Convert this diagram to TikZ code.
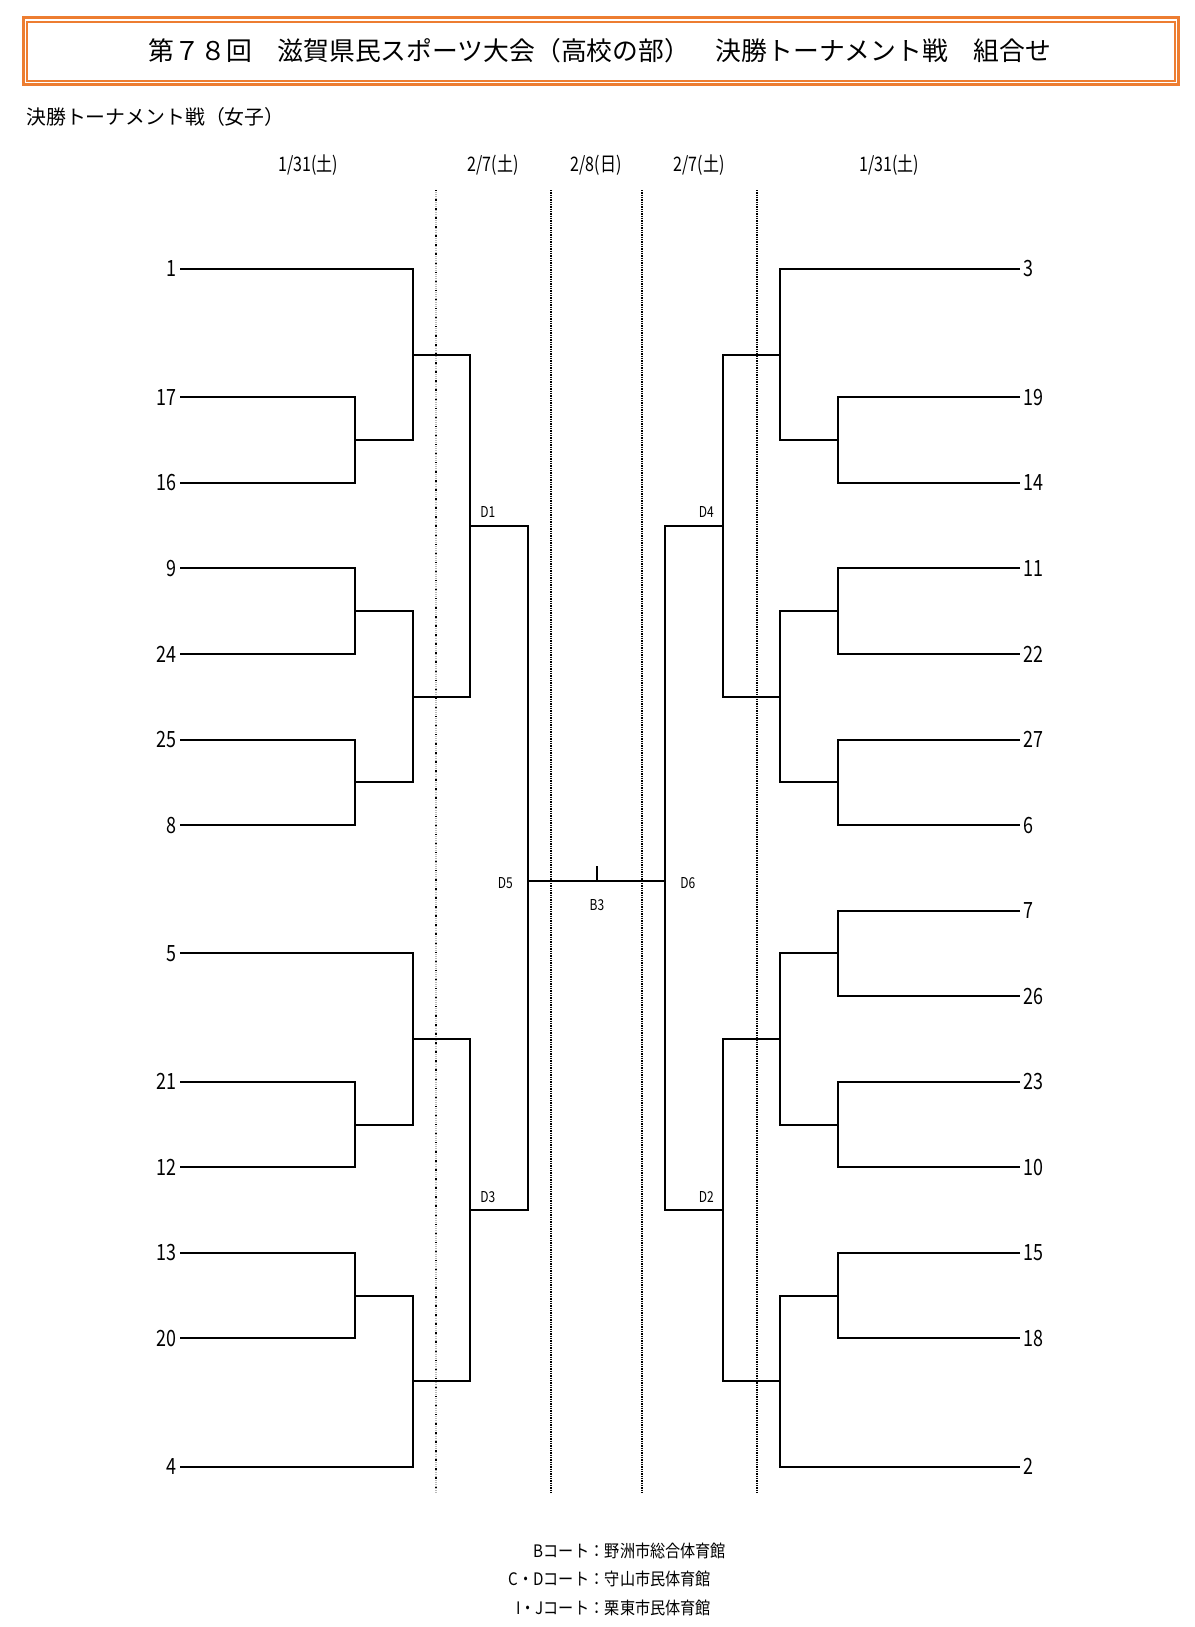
\documentclass[tikz,border=0pt]{standalone}
\usepackage{fontspec}
\newfontfamily\jp{Noto Sans CJK JP}
\newfontfamily\jpc[FakeStretch=0.8]{Noto Sans CJK JP}
\newfontfamily\jpf[FakeStretch=0.88]{Noto Sans CJK JP}
\definecolor{frameorange}{HTML}{ED7D31}
\begin{document}
\begin{tikzpicture}[x=0.75pt,y=-0.75pt,
  br/.style={line width=1.5pt},
  teamL/.style={anchor=east,inner sep=0pt,xshift=-2.25pt,font=\jpc\fontsize{16.8pt}{18pt}\selectfont},
  teamR/.style={anchor=west,inner sep=0pt,xshift=2.25pt,font=\jpc\fontsize{16.8pt}{18pt}\selectfont},
  datelbl/.style={anchor=base,inner sep=0pt,font=\jpc\fontsize{15pt}{17pt}\selectfont},
  dlbl/.style={inner sep=0pt,font=\jpc\fontsize{11.25pt}{13pt}\selectfont},
  footl/.style={inner sep=0pt,font=\jpf\fontsize{12.9pt}{15pt}\selectfont},
  dotblack/.style={line width=1pt,dash pattern=on 1pt off 0.75pt},
  dotgrey/.style={line width=0.8pt,gray!55,dash pattern=on 0.75pt off 0.75pt},
  dotsparse/.style={line width=0.8pt,dash pattern=on 1.1pt off 5.7pt}
]
\useasboundingbox (0,0) rectangle (1195,1627);
\fill[white] (0,0) rectangle (1195,1627);

% frame and titles
\draw[frameorange,line width=2.25pt] (23.5,17.5) rectangle (1178.5,84.5);
\draw[frameorange,line width=1.5pt] (27,22) rectangle (1175,81);
\node[anchor=base,inner sep=0pt,font=\jp\fontsize{19.35pt}{22pt}\selectfont] (title) at (600,61) {第７８回　滋賀県民スポーツ大会（高校の部）　決勝トーナメント戦　組合せ};
\node[anchor=base west,inner sep=0pt,font=\jp\fontsize{14.9pt}{17pt}\selectfont] (sub) at (26,124) {決勝トーナメント戦（女子）};

% dates
\node[datelbl] (dt1) at (308,171) {1/31(土)};
\node[datelbl] (dt2) at (493,171) {2/7(土)};
\node[datelbl] (dt3) at (596,171) {2/8(日)};
\node[datelbl] (dt4) at (699,171) {2/7(土)};
\node[datelbl] (dt5) at (889,171) {1/31(土)};

% dotted separators
\coordinate (v1t) at (436,190); \coordinate (v1b) at (436,1494);
\coordinate (v2t) at (551,190); \coordinate (v2b) at (551,1494);
\coordinate (v3t) at (642,190); \coordinate (v3b) at (642,1494);
\coordinate (v4t) at (757,190); \coordinate (v4b) at (757,1494);
\draw[dotgrey] (v1t) -- (v1b);
\draw[dotsparse] (v1t) -- (v1b);
\draw[dotblack] (v2t) -- (v2b);
\draw[dotblack] (v3t) -- (v3b);
\draw[dotblack] (v4t) -- (v4b);

% left entries
\coordinate (p1) at (180,269);
\coordinate (p17) at (180,397.3);
\coordinate (p16) at (180,482.9);
\coordinate (p9) at (180,568.4);
\coordinate (p24) at (180,654);
\coordinate (p25) at (180,739.5);
\coordinate (p8) at (180,825.1);
\coordinate (p5) at (180,953.4);
\coordinate (p21) at (180,1081.7);
\coordinate (p12) at (180,1167.3);
\coordinate (p13) at (180,1252.8);
\coordinate (p20) at (180,1338.4);
\coordinate (p4) at (180,1466.7);
% right entries
\coordinate (p3) at (1020,269);
\coordinate (p19) at (1020,397.3);
\coordinate (p14) at (1020,482.9);
\coordinate (p11) at (1020,568.4);
\coordinate (p22) at (1020,654);
\coordinate (p27) at (1020,739.5);
\coordinate (p6) at (1020,825.1);
\coordinate (p7) at (1020,910.6);
\coordinate (p26) at (1020,996.2);
\coordinate (p23) at (1020,1081.7);
\coordinate (p10) at (1020,1167.3);
\coordinate (p15) at (1020,1252.8);
\coordinate (p18) at (1020,1338.4);
\coordinate (p2) at (1020,1466.7);

\node[teamL] (n1) at (p1) {1};
\node[teamL] (n17) at (p17) {17};
\node[teamL] (n16) at (p16) {16};
\node[teamL] (n9) at (p9) {9};
\node[teamL] (n24) at (p24) {24};
\node[teamL] (n25) at (p25) {25};
\node[teamL] (n8) at (p8) {8};
\node[teamL] (n5) at (p5) {5};
\node[teamL] (n21) at (p21) {21};
\node[teamL] (n12) at (p12) {12};
\node[teamL] (n13) at (p13) {13};
\node[teamL] (n20) at (p20) {20};
\node[teamL] (n4) at (p4) {4};
\node[teamR] (n3) at (p3) {3};
\node[teamR] (n19) at (p19) {19};
\node[teamR] (n14) at (p14) {14};
\node[teamR] (n11) at (p11) {11};
\node[teamR] (n22) at (p22) {22};
\node[teamR] (n27) at (p27) {27};
\node[teamR] (n6) at (p6) {6};
\node[teamR] (n7) at (p7) {7};
\node[teamR] (n26) at (p26) {26};
\node[teamR] (n23) at (p23) {23};
\node[teamR] (n10) at (p10) {10};
\node[teamR] (n15) at (p15) {15};
\node[teamR] (n18) at (p18) {18};
\node[teamR] (n2) at (p2) {2};

% left junctions
\coordinate (jA) at (355,440.1);
\coordinate (kA) at (413,354.55);
\coordinate (jB) at (355,611.2);
\coordinate (jC) at (355,782.3);
\coordinate (kB) at (413,696.75);
\coordinate (D1) at (470,525.65);
\coordinate (jD) at (355,1124.5);
\coordinate (kC) at (413,1038.95);
\coordinate (jE) at (355,1295.6);
\coordinate (kD) at (413,1381.15);
\coordinate (D3) at (470,1210.05);
\coordinate (D5) at (528,881);
% right junctions
\coordinate (rjA) at (838,440.1);
\coordinate (rkA) at (780,354.55);
\coordinate (rjB) at (838,611.2);
\coordinate (rjC) at (838,782.3);
\coordinate (rkB) at (780,696.75);
\coordinate (D4) at (723,525.65);
\coordinate (rjF) at (838,953.4);
\coordinate (rjD) at (838,1124.5);
\coordinate (rkC) at (780,1038.95);
\coordinate (rjE) at (838,1295.6);
\coordinate (rkD) at (780,1381.15);
\coordinate (D2) at (723,1210.05);
\coordinate (D6) at (665,881);

% left bracket
\draw[br] (p17) -| (jA) |- (p16);
\draw[br] (p1) -| (kA) |- (jA);
\draw[br] (p9) -| (jB) |- (p24);
\draw[br] (p25) -| (jC) |- (p8);
\draw[br] (jB) -| (kB) |- (jC);
\draw[br] (kA) -| (D1) |- (kB);
\draw[br] (p21) -| (jD) |- (p12);
\draw[br] (p5) -| (kC) |- (jD);
\draw[br] (p13) -| (jE) |- (p20);
\draw[br] (jE) -| (kD) |- (p4);
\draw[br] (kC) -| (D3) |- (kD);
\draw[br] (D1) -| (D5) |- (D3);
% right bracket
\draw[br] (p19) -| (rjA) |- (p14);
\draw[br] (p3) -| (rkA) |- (rjA);
\draw[br] (p11) -| (rjB) |- (p22);
\draw[br] (p27) -| (rjC) |- (p6);
\draw[br] (rjB) -| (rkB) |- (rjC);
\draw[br] (rkA) -| (D4) |- (rkB);
\draw[br] (p7) -| (rjF) |- (p26);
\draw[br] (p23) -| (rjD) |- (p10);
\draw[br] (rjF) -| (rkC) |- (rjD);
\draw[br] (p15) -| (rjE) |- (p18);
\draw[br] (rjE) -| (rkD) |- (p2);
\draw[br] (rkC) -| (D2) |- (rkD);
\draw[br] (D4) -| (D6) |- (D2);
% final
\draw[br] (D5) -- (D6);
\coordinate (tk) at (597,881);
\coordinate (tkt) at (597,866);
\draw[br] (tk) -- (tkt);

% match labels
\node[dlbl,anchor=base west] (lD1) at (480,517) {D1};
\node[dlbl,anchor=base west] (lD3) at (480,1202) {D3};
\node[dlbl,anchor=base east] (lD4) at (714,517) {D4};
\node[dlbl,anchor=base east] (lD2) at (714,1202) {D2};
\node[dlbl,anchor=base east] (lD5) at (513,888) {D5};
\node[dlbl,anchor=base west] (lD6) at (680,888) {D6};
\node[dlbl,anchor=base] (lB3) at (597,910) {B3};

% footer
\node[footl,anchor=base east] (f1a) at (589.5,1557) {Bコート};
\node[footl,anchor=base west] (f1b) at (589.5,1557) {：野洲市総合体育館};
\node[footl,anchor=base east] (f2a) at (589.5,1585.5) {C・Dコート};
\node[footl,anchor=base west] (f2b) at (589.5,1585.5) {：守山市民体育館};
\node[footl,anchor=base east] (f3a) at (589.5,1614) {I・Jコート};
\node[footl,anchor=base west] (f3b) at (589.5,1614) {：栗東市民体育館};
\end{tikzpicture}
\end{document}
